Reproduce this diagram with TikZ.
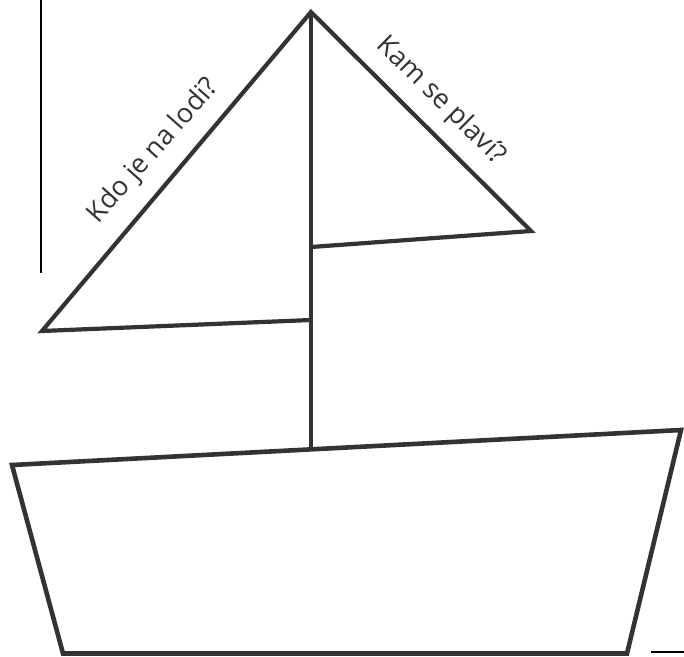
\documentclass[tikz,border=0pt]{standalone}
\usepackage{fontspec}
\setmainfont{Open Sans}
\definecolor{ink}{HTML}{333333}
\tikzset{
  boatline/.style={draw=ink, line width=4.2pt, line join=miter},
  hullline/.style={draw=ink, line width=4.6pt, line join=miter},
  thinmark/.style={draw=black, line width=2pt},
  question/.style={text=ink, font=\fontsize{27}{31}\selectfont, inner sep=0pt, anchor=base}
}
\begin{document}
\begin{tikzpicture}[x=1pt, y=-1pt]
\useasboundingbox (0,0) rectangle (684,656);
% vertices
\coordinate (apex) at (311,12);
\coordinate (lsail) at (42,331);
\coordinate (ljoin) at (311,320);
\coordinate (rsail) at (531,231);
\coordinate (rjoin) at (311,247);
\coordinate (mastfoot) at (311,447);
\coordinate (htl) at (12,465);
\coordinate (htr) at (681,430);
\coordinate (hbr) at (627,653.5);
\coordinate (hbl) at (63,653.5);
\coordinate (vtop) at (41,0);
\coordinate (vbot) at (41,273);
\coordinate (mA) at (651,652);
\coordinate (mB) at (684,652);
% marks
\draw[thinmark] (vtop) -- (vbot);
\draw[thinmark] (mA) -- (mB);
% sails and mast
\draw[boatline] (ljoin) -- (lsail) -- (apex) -- (rsail) -- (rjoin);
\draw[boatline] (apex) -- (mastfoot);
% hull
\draw[hullline] (htl) -- (htr) -- (hbr) -- (hbl) -- cycle;
% texts
\node[question, rotate=48.5] (q1) at (159,156) {Kdo je na lodi?};
\node[question, rotate=-44.6] (q2) at (436,106) {Kam se plaví?};
\end{tikzpicture}
\end{document}
